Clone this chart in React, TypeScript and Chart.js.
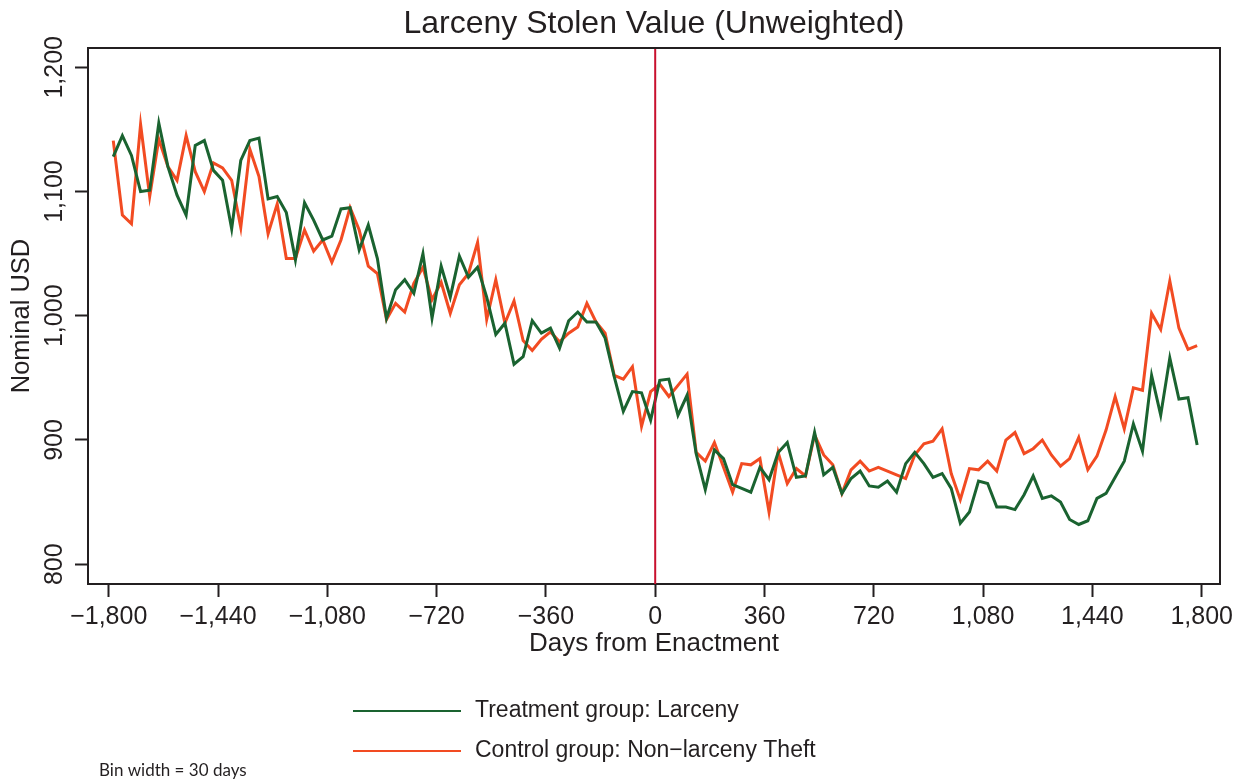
import { useEffect, useRef } from 'react';
import { Chart, registerables } from 'chart.js';

Chart.register(...registerables);

const BIN_WIDTH = 30;
const FIRST_BIN = -1785;

const treatment = [
  1128, 1145, 1129, 1100, 1101, 1155, 1120, 1097, 1081, 1137,
  1141, 1117, 1109, 1070, 1125, 1141, 1143, 1094, 1096, 1083,
  1045, 1091, 1077, 1061, 1064, 1086, 1087, 1053, 1073, 1046,
  998, 1021, 1029, 1018, 1050, 998, 1040, 1015, 1048, 1031,
  1039, 1015, 985, 994, 961, 967, 996, 986, 990, 974,
  996, 1003, 995, 995, 982, 951, 923, 939, 938, 916,
  948, 949, 920, 936, 889, 860, 892, 885, 864, 861,
  858, 878, 868, 890, 898, 870, 871, 906, 872, 878,
  857, 869, 875, 863, 862, 867, 858, 881, 890, 881,
  870, 873, 861, 833, 842, 867, 865, 846, 846, 844,
  856, 871, 853, 855, 850, 836, 832, 835, 853, 857,
  870, 883, 913, 891, 952, 920, 966, 933, 934, 896,
];

const control = [
  1141, 1081, 1074, 1154, 1096, 1142, 1120, 1109, 1145, 1116,
  1100, 1123, 1119, 1109, 1071, 1134, 1112, 1066, 1090, 1046,
  1046, 1069, 1052, 1061, 1043, 1061, 1087, 1069, 1040, 1034,
  997, 1010, 1003, 1026, 1039, 1013, 1027, 1002, 1025, 1034,
  1059, 997, 1029, 994, 1012, 980, 972, 981, 987, 979,
  986, 991, 1010, 995, 986, 952, 949, 959, 911, 939,
  945, 935, 944, 953, 890, 883, 898, 878, 858, 881,
  880, 885, 842, 890, 865, 877, 871, 904, 888, 880,
  857, 876, 883, 875, 878, 875, 872, 869, 888, 897,
  899, 909, 873, 852, 877, 876, 883, 875, 900, 906,
  889, 893, 900, 888, 879, 885, 902, 876, 887, 908,
  935, 909, 942, 940, 1002, 989, 1028, 990, 973, 976,
];

const xTicks = [-1800, -1440, -1080, -720, -360, 0, 360, 720, 1080, 1440, 1800];
const yTicks = [800, 900, 1000, 1100, 1200];

const TITLE = 'Larceny Stolen Value (Unweighted)';
const X_TITLE = 'Days from Enactment';
const Y_TITLE = 'Nominal USD';
const SERIES_NAMES = ['Treatment group: Larceny', 'Control group: Non\u2212larceny Theft'];
const NOTE = 'Bin width = 30 days';
const ENACTMENT_DAY = 0;

const FONT = "'Liberation Sans', Arial, Helvetica, sans-serif";
const INK = '#231f20';
const GREEN = '#1a6330';
const ORANGE = '#f24b22';
const RED = '#c8102e';

const fmt = (v: number) => (v < 0 ? '\u2212' : '') + Math.abs(v).toLocaleString('en-US');

const decorPlugin = {
  id: 'decor',
  afterDatasetsDraw(chart: any) {
    const { ctx, chartArea, scales } = chart;
    const xs = scales.x;
    const ys = scales.y;
    ctx.save();
    // enactment line
    const x0 = xs.getPixelForValue(ENACTMENT_DAY);
    ctx.strokeStyle = RED;
    ctx.lineWidth = 2;
    ctx.beginPath();
    ctx.moveTo(x0, chartArea.top);
    ctx.lineTo(x0, chartArea.bottom);
    ctx.stroke();
    // top and right border
    ctx.strokeStyle = INK;
    ctx.lineWidth = 2;
    ctx.beginPath();
    ctx.moveTo(chartArea.left, chartArea.top);
    ctx.lineTo(chartArea.right, chartArea.top);
    ctx.lineTo(chartArea.right, chartArea.bottom);
    ctx.stroke();
    // title
    ctx.fillStyle = INK;
    ctx.font = `32px ${FONT}`;
    ctx.textAlign = 'center';
    ctx.textBaseline = 'alphabetic';
    ctx.fillText(TITLE, (chartArea.left + chartArea.right) / 2, 33);
    // rotated y tick labels
    ctx.font = `25px ${FONT}`;
    for (const v of yTicks) {
      const y = ys.getPixelForValue(v);
      ctx.save();
      ctx.translate(62, y);
      ctx.rotate(-Math.PI / 2);
      ctx.fillText(fmt(v), 0, 0);
      ctx.restore();
    }
    // legend
    const rows = [711, 751];
    ctx.font = `23px ${FONT}`;
    ctx.textAlign = 'left';
    ctx.textBaseline = 'middle';
    chart.data.datasets.forEach((ds: any, i: number) => {
      const y = rows[i];
      ctx.strokeStyle = ds.borderColor;
      ctx.lineWidth = 2;
      ctx.beginPath();
      ctx.moveTo(353, y);
      ctx.lineTo(461, y);
      ctx.stroke();
      ctx.fillStyle = INK;
      ctx.fillText(ds.label, 475, y);
    });
    // note
    ctx.font = `17px Lato, 'Open Sans', sans-serif`;
    ctx.fillStyle = INK;
    ctx.fillText(NOTE, 99, 771);
    ctx.restore();
  },
};

export default function App() {
  const ref = useRef<HTMLCanvasElement | null>(null);

  useEffect(() => {
    document.body.style.margin = '0';
    const canvas = ref.current;
    if (!canvas) return;
    const days = treatment.map((_, i) => FIRST_BIN + BIN_WIDTH * i);
    const chart = new Chart(canvas, {
      type: 'line',
      data: {
        datasets: [
          {
            label: SERIES_NAMES[0],
            data: days.map((d, i) => ({ x: d, y: treatment[i] })),
            borderColor: GREEN,
            backgroundColor: GREEN,
            borderWidth: 3,
            pointRadius: 0,
            tension: 0,
          },
          {
            label: SERIES_NAMES[1],
            data: days.map((d, i) => ({ x: d, y: control[i] })),
            borderColor: ORANGE,
            backgroundColor: ORANGE,
            borderWidth: 3,
            pointRadius: 0,
            tension: 0,
          },
        ],
      },
      options: {
        responsive: false,
        animation: false,
        layout: { padding: { left: 0, right: 30, top: 48, bottom: 0 } },
        plugins: {
          legend: { display: false },
          tooltip: { enabled: false },
          title: { display: false },
        },
        scales: {
          x: {
            type: 'linear',
            min: -1868.2,
            max: 1860.3,
            afterBuildTicks: (s: any) => {
              s.ticks = xTicks.map((v) => ({ value: v }));
            },
            afterFit: (s: any) => {
              s.height = 196;
            },
            border: { display: true, color: INK, width: 2 },
            grid: {
              drawOnChartArea: false,
              drawTicks: true,
              tickLength: 13,
              tickWidth: 2,
              tickColor: INK,
            },
            ticks: {
              color: INK,
              font: { family: FONT, size: 25 },
              padding: 5,
              maxRotation: 0,
              autoSkip: false,
              callback: (v: any) => fmt(Number(v)),
            },
            title: {
              display: true,
              text: X_TITLE,
              color: INK,
              font: { family: FONT, size: 26 },
              padding: { top: 0, bottom: 121 },
            },
          },
          y: {
            type: 'linear',
            min: 784.1,
            max: 1215.5,
            afterBuildTicks: (s: any) => {
              s.ticks = yTicks.map((v) => ({ value: v }));
            },
            afterFit: (s: any) => {
              s.width = 88;
            },
            border: { display: true, color: INK, width: 2 },
            grid: {
              drawOnChartArea: false,
              drawTicks: true,
              tickLength: 13,
              tickWidth: 2,
              tickColor: INK,
            },
            ticks: { display: false },
            title: {
              display: true,
              text: Y_TITLE,
              color: INK,
              font: { family: FONT, size: 25.5 },
              padding: { top: 7 },
            },
          },
        },
      },
      plugins: [decorPlugin],
    });
    return () => chart.destroy();
  }, []);

  return (
    <div style={{ width: 1250, height: 780 }}>
      <canvas ref={ref} width={1250} height={780} style={{ display: 'block' }} />
    </div>
  );
}
